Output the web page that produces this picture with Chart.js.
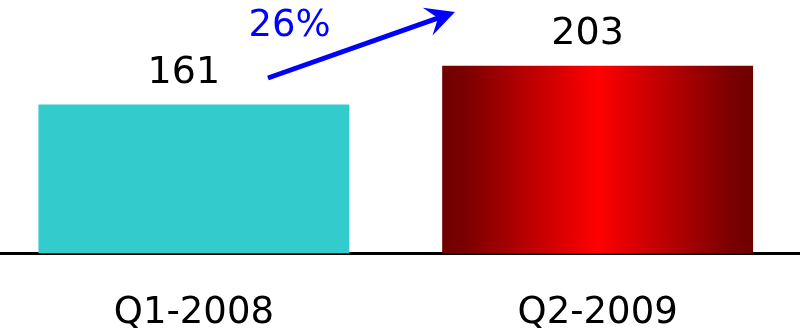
<!DOCTYPE html>
<html lang="en">
<head>
    <meta charset="UTF-8">
    <title>Quarter comparison</title>
    <script src="https://cdn.jsdelivr.net/npm/chart.js"></script>
    <style>
        html, body { margin: 0; padding: 0; background: #fff; overflow: hidden; }
        /* canvas is a little wider than the page and pulled left so the first bar sits near the edge */
        #wrap { width: 812px; height: 334px; margin-left: -8px; }
    </style>
</head>
<body>
    <div id="wrap"><canvas id="chart"></canvas></div>

    <script>
        const quarters = ["Q1-2008", "Q2-2009"];
        const amounts = [161, 203];

        // growth arrow, placed in axis units (x = category index, y = value)
        const arrowFrom = [0.1835, 189.7];
        const arrowTo = [0.6467, 261];
        const growthAt = [0.237, 235];

        const FONT = "'DejaVu Sans', Verdana, sans-serif";

        function redGradient(ctx, left, right) {
            const g = ctx.createLinearGradient(left, 0, right, 0);
            g.addColorStop(0, "#700000");
            g.addColorStop(0.07, "#7a0000");
            g.addColorStop(0.5, "#ff0000");
            g.addColorStop(0.93, "#7a0000");
            g.addColorStop(1, "#700000");
            return g;
        }

        const extras = {
            id: "extras",
            beforeDatasetsDraw(chart) {
                const bar = chart.getDatasetMeta(0).data[1];
                if (!bar) return;
                const half = bar.width / 2;
                bar.options.backgroundColor = redGradient(chart.ctx, bar.x - half, bar.x + half);
            },
            afterDatasetsDraw(chart) {
                const ctx = chart.ctx;
                const xs = chart.scales.x, ys = chart.scales.y;
                const x0 = xs.getPixelForValue(0), step = xs.getPixelForValue(1) - x0;
                const px = v => x0 + v * step;

                // value labels above the bars
                ctx.save();
                ctx.font = "38px " + FONT;
                ctx.fillStyle = "#000";
                ctx.textAlign = "center";
                ctx.textBaseline = "alphabetic";
                chart.getDatasetMeta(0).data.forEach((bar, i) => {
                    ctx.fillText(String(amounts[i]), bar.x - 10, bar.y - 22);
                });

                // growth arrow
                const ax = px(arrowFrom[0]), ay = ys.getPixelForValue(arrowFrom[1]);
                const bx = px(arrowTo[0]), by = ys.getPixelForValue(arrowTo[1]);
                const len = Math.hypot(bx - ax, by - ay);
                const ux = (bx - ax) / len, uy = (by - ay) / len;
                const nx = -uy, ny = ux;
                ctx.strokeStyle = "#0000ff";
                ctx.fillStyle = "#0000ff";
                ctx.lineWidth = 5;
                ctx.beginPath();
                ctx.moveTo(ax, ay);
                ctx.lineTo(bx - ux * 16, by - uy * 16);
                ctx.stroke();
                ctx.beginPath();
                ctx.moveTo(bx, by);
                ctx.lineTo(bx - ux * 29 + nx * 14.7, by - uy * 29 + ny * 14.7);
                ctx.lineTo(bx - ux * 18, by - uy * 18);
                ctx.lineTo(bx - ux * 29 - nx * 14.7, by - uy * 29 - ny * 14.7);
                ctx.closePath();
                ctx.fill();

                // growth percentage
                const growth = Math.round((amounts[1] - amounts[0]) / amounts[0] * 100);
                ctx.font = "37px " + FONT;
                ctx.fillText(growth + "%", px(growthAt[0]), ys.getPixelForValue(growthAt[1]));
                ctx.restore();
            }
        };

        new Chart(document.getElementById("chart"), {
            type: "bar",
            data: {
                labels: quarters,
                datasets: [{
                    data: amounts,
                    backgroundColor: ["#33cccc", "#ff0000"],
                    borderWidth: 0,
                    categoryPercentage: 1,
                    barPercentage: 0.77
                }]
            },
            options: {
                responsive: true,
                maintainAspectRatio: false,
                animation: false,
                layout: { padding: { left: 0, right: 4.5, top: 0, bottom: 0 } },
                plugins: { legend: { display: false }, tooltip: { enabled: false } },
                scales: {
                    x: {
                        grid: { display: false, drawTicks: false },
                        border: { display: true, color: "#000", width: 3 },
                        ticks: { color: "#000", padding: 38, font: { family: FONT, size: 37 } },
                        afterFit(scale) { scale.height = 80.5; }
                    },
                    y: { display: false, min: 0, max: 274 }
                }
            },
            plugins: [extras]
        });
    </script>
</body>
</html>
